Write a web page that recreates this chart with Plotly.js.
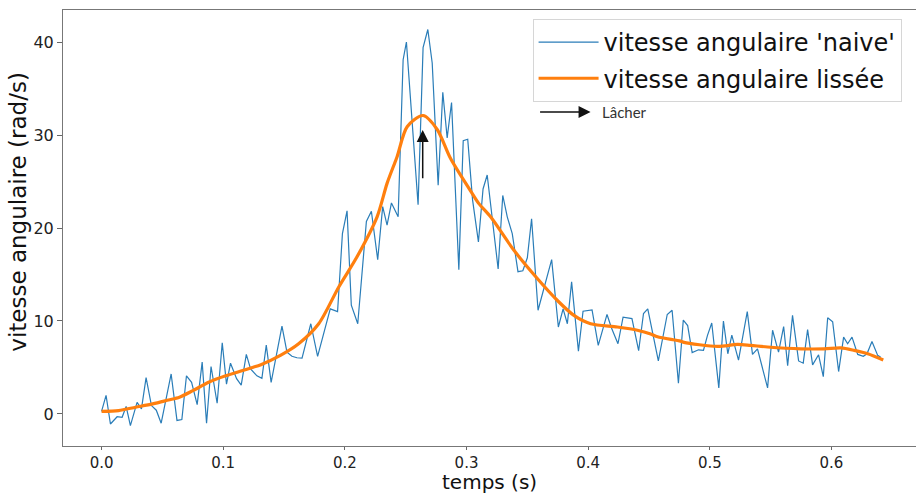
<!DOCTYPE html>
<html>
<head>
<meta charset="utf-8">
<script src="https://cdn.plot.ly/plotly-3.0.1.min.js"></script>
<style>
  html, body { margin: 0; padding: 0; background: #fff; overflow: hidden; }
  #chart { width: 916px; height: 493px; }
</style>
</head>
<body>
<div id="chart"></div>
<script>
// ---- Data ----
// raw ("naive") angular speed: time (s) and value (rad/s)
const naiveTime = [0, 0.0037, 0.0073, 0.0128, 0.0169, 0.0202, 0.0237, 0.0292, 0.0328, 0.0366,
  0.041, 0.045, 0.049, 0.0572, 0.062, 0.066, 0.0698, 0.074, 0.0786, 0.0827,
  0.0863, 0.090, 0.095, 0.0992, 0.1027, 0.106, 0.111, 0.1148, 0.119, 0.1225,
  0.1277, 0.1318, 0.1354, 0.1394, 0.1483, 0.1524, 0.1565, 0.1606, 0.1648, 0.172,
  0.1776, 0.1826, 0.188, 0.194, 0.198, 0.2018, 0.2053, 0.2106, 0.2177, 0.2218,
  0.227, 0.2311, 0.2347, 0.2383, 0.2438, 0.2479, 0.2506, 0.2602, 0.2643, 0.2682,
  0.2718, 0.2767, 0.2805, 0.2841, 0.2877, 0.2937, 0.2973, 0.301, 0.305, 0.3098,
  0.3136, 0.317, 0.3214, 0.326, 0.3298, 0.3335, 0.3376, 0.3423, 0.3463, 0.35,
  0.3535, 0.3588, 0.37, 0.3755, 0.3794, 0.3829, 0.3864, 0.392, 0.3958, 0.4032,
  0.4083, 0.4155, 0.4192, 0.4245, 0.4287, 0.436, 0.4415, 0.4455, 0.449, 0.4577,
  0.465, 0.469, 0.4742, 0.4782, 0.4818, 0.4855, 0.4907, 0.4948, 0.4981, 0.5016,
  0.5074, 0.5112, 0.5148, 0.5181, 0.5236, 0.5308, 0.5351, 0.5392, 0.5475, 0.5516,
  0.5565, 0.5607, 0.564, 0.568, 0.573, 0.5768, 0.5804, 0.5845, 0.5894, 0.5933,
  0.5969, 0.601, 0.6059, 0.61, 0.6133, 0.6169, 0.6216, 0.6262, 0.6292, 0.6333,
  0.638, 0.6405];
const naiveSpeed = [0.28, 2.0, -1.08, -0.3, -0.36, 0.8, -1.26, 1.25, 0.54, 3.9,
  0.9, 0.4, -1.0, 4.3, -0.7, -0.6, 4.1, 3.4, 1.0, 5.57,
  -1.0, 5.1, 1.15, 7.66, 3.2, 5.46, 3.8, 3.1, 6.4, 4.85,
  4.1, 3.84, 7.4, 3.4, 9.45, 6.65, 6.2, 6.04, 6.0, 9.7,
  6.2, 8.6, 11.3, 11.0, 19.4, 21.85, 11.7, 9.7, 20.7, 21.8,
  16.6, 22.3, 20.3, 22.7, 21.2, 38.1, 40.0, 22.5, 39.4, 41.35,
  37.75, 24.6, 34.6, 29.7, 33.5, 15.5, 29.4, 29.55, 23.0, 18.5,
  24.2, 25.7, 20.5, 15.6, 23.5, 21.2, 19.4, 15.3, 15.4, 16.8,
  21.0, 11.15, 16.6, 9.35, 11.3, 9.7, 14.2, 6.75, 11.05, 11.2,
  7.37, 10.7, 9.25, 7.55, 10.4, 10.25, 6.8, 10.8, 11.3, 5.7,
  10.7, 11.15, 3.3, 10.1, 9.5, 6.6, 6.9, 6.85, 8.45, 9.78,
  2.8, 10.0, 6.47, 8.47, 5.78, 11.0, 6.4, 7.0, 2.8, 9.0,
  6.65, 9.4, 5.2, 10.6, 5.7, 5.46, 9.06, 5.28, 6.36, 4.0,
  10.35, 9.9, 4.56, 8.26, 7.55, 8.26, 6.4, 6.2, 6.47, 7.8,
  6.3, 6.1];

// smoothed angular speed
const smoothTime = [0, 0.014, 0.028, 0.042, 0.055, 0.064, 0.075, 0.088, 0.102, 0.116,
  0.124, 0.131, 0.147, 0.162, 0.1785, 0.195, 0.21, 0.2265, 0.2347, 0.243,
  0.2512, 0.2643, 0.2759, 0.2868, 0.3033, 0.31, 0.3198, 0.339, 0.3582, 0.3747,
  0.3883, 0.402, 0.424, 0.4405, 0.4514, 0.457, 0.476, 0.4788, 0.5063, 0.5228,
  0.5337, 0.5475, 0.5749, 0.594, 0.6078, 0.6188, 0.6298, 0.6426];
const smoothSpeed = [0.28, 0.36, 0.72, 1.08, 1.5, 1.8, 2.5, 3.4, 4.1, 4.67,
  5.0, 5.3, 6.3, 7.55, 9.7, 13.66, 16.9, 21.2, 24.8, 27.7,
  30.9, 32.1, 30.6, 27.5, 24.0, 22.65, 21.2, 17.6, 14.56, 12.2,
  10.6, 9.7, 9.35, 9.0, 8.6, 8.3, 7.83, 7.7, 7.26, 7.48,
  7.37, 7.2, 7.0, 7.0, 7.1, 6.83, 6.47, 5.8];

// release ("Lâcher") arrow: time and speed range
const releaseTime = 0.264;
const releaseFrom = 25.2;
const releaseTo = 30.55;

const seriesNames = ["vitesse angulaire 'naive'", "vitesse angulaire lissée"];
const xTitle = 'temps (s)';
const yTitle = 'vitesse angulaire (rad/s)';
const xTickVals = [0, 0.1, 0.2, 0.3, 0.4, 0.5, 0.6];
const xTickText = ["0.0", "0.1", "0.2", "0.3", "0.4", "0.5", "0.6"];
const yTickVals = [0, 10, 20, 30, 40];
const yTickText = ["0", "10", "20", "30", "40"];

// ---- Plot ----
const traces = [
  {
    x: naiveTime, y: naiveSpeed, type: 'scatter', mode: 'lines',
    name: seriesNames[0], legendgroup: 'a',
    line: {color: '#2a7db8', width: 1.2}
  },
  {
    x: smoothTime, y: smoothSpeed, type: 'scatter', mode: 'lines',
    name: seriesNames[1], legendgroup: 'b',
    line: {color: '#ff7f0e', width: 3.2, shape: 'spline', smoothing: 0.8}
  }
];

const axisFont = {family: 'DejaVu Sans, sans-serif', size: 16, color: '#222'};

const layout = {
  width: 916, height: 493,
  margin: {l: 63, r: 0, t: 10, b: 47, pad: 0},
  paper_bgcolor: '#fff', plot_bgcolor: '#fff',
  showlegend: true,
  legend: {
    x: 0.5505, y: 0.9795, xanchor: 'left', yanchor: 'top',
    bgcolor: 'rgba(255,255,255,0.9)', bordercolor: '#d6d6d6', borderwidth: 1,
    font: {family: 'DejaVu Sans, sans-serif', size: 24, color: '#111'},
    traceorder: 'grouped', tracegroupgap: 2, itemwidth: 60
  },
  xaxis: {
    range: [-0.0317, 0.6695],
    tickvals: xTickVals, ticktext: xTickText,
    ticks: 'outside', ticklen: 3, tickwidth: 1, tickcolor: '#666',
    showline: true, linecolor: '#777', linewidth: 1, mirror: true,
    showgrid: false, zeroline: false,
    tickfont: {family: 'DejaVu Sans, sans-serif', size: 15, color: '#222'}
  },
  yaxis: {
    range: [-3.45, 43.45],
    tickvals: yTickVals, ticktext: yTickText,
    ticks: 'outside', ticklen: 5, tickwidth: 1, tickcolor: '#666',
    showline: true, linecolor: '#777', linewidth: 1, mirror: true,
    showgrid: false, zeroline: false,
    tickfont: axisFont
  },
  annotations: [
    {
      text: xTitle, xref: 'paper', yref: 'paper', x: 0.5, y: -0.082,
      xanchor: 'center', yanchor: 'middle', showarrow: false,
      font: {family: 'DejaVu Sans, sans-serif', size: 20, color: '#111'}
    },
    {
      text: yTitle, xref: 'paper', yref: 'paper', x: -0.053, y: 0.537,
      xanchor: 'center', yanchor: 'middle', showarrow: false, textangle: -90,
      font: {family: 'DejaVu Sans, sans-serif', size: 23, color: '#111'}
    },
    {
      x: releaseTime, y: releaseTo, ax: releaseTime, ay: releaseFrom,
      xref: 'x', yref: 'y', axref: 'x', ayref: 'y',
      showarrow: true, arrowhead: 2, arrowsize: 1.6, arrowwidth: 1.5,
      arrowcolor: '#111', text: ''
    },
    {
      x: 0.6185, y: 0.766, xref: 'paper', yref: 'paper',
      ax: -52, ay: 0,
      showarrow: true, arrowhead: 2, arrowsize: 1.6, arrowwidth: 1.5,
      arrowcolor: '#111', text: ''
    },
    {
      x: 0.629, y: 0.766, xref: 'paper', yref: 'paper',
      xanchor: 'left', yanchor: 'middle', showarrow: false,
      text: 'Lâcher',
      font: {family: 'Lato, Noto Sans, sans-serif', size: 15, color: '#333'}
    }
  ]
};

Plotly.newPlot('chart', traces, layout, {staticPlot: true, displayModeBar: false});
</script>
</body>
</html>
